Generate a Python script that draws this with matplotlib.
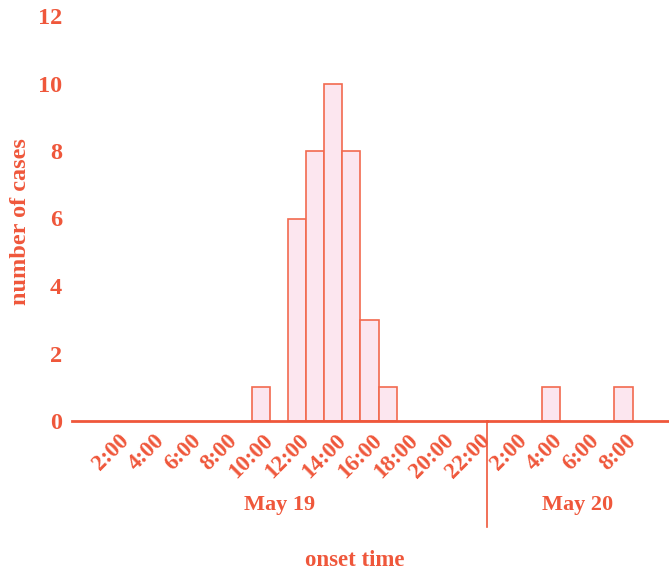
import matplotlib
matplotlib.use("Agg")
import matplotlib.pyplot as plt

# onset counts per hour bin (bin start hour)
may19_hours = [9, 11, 12, 13, 14, 15, 16]
may19_cases = [1, 6, 8, 10, 8, 3, 1]
may20_hours = [3, 7]
may20_cases = [1, 1]

may19_ticks = [2, 4, 6, 8, 10, 12, 14, 16, 18, 20, 22]
may20_ticks = [2, 4, 6, 8]
y_ticks = [0, 2, 4, 6, 8, 10, 12]

red = '#EF573B'
fill = '#FCE6EF'
edge = '#F26A4F'

plt.rcParams['font.family'] = ['Liberation Serif', 'DejaVu Serif']
plt.rcParams['font.weight'] = 'bold'

W, H = 669, 571
fig = plt.figure(figsize=(W / 100, H / 100), dpi=100)

x0, xm, x1 = 72, 487, 669
ytop, ybot = 16, 421
ax1 = fig.add_axes([x0 / W, 1 - ybot / H, (xm - x0) / W, (ybot - ytop) / H])
ax2 = fig.add_axes([xm / W, 1 - ybot / H, (x1 - xm) / W, (ybot - ytop) / H])

ax1.bar(may19_hours, may19_cases, width=1, align='edge', color=fill,
        edgecolor=edge, linewidth=1.2)
ax2.bar(may20_hours, may20_cases, width=1, align='edge', color=fill,
        edgecolor=edge, linewidth=1.2)

ax1.set_xlim(-0.95, 22)
ax2.set_xlim(0, 10)

for ax, ticks in ((ax1, may19_ticks), (ax2, may20_ticks)):
    ax.set_ylim(0, 12)
    for s in ('top', 'right', 'left'):
        ax.spines[s].set_visible(False)
    ax.spines['bottom'].set_color(red)
    ax.spines['bottom'].set_linewidth(2)
    ax.set_xticks(ticks)
    ax.set_xticklabels([f'{t}:00' for t in ticks], rotation=45, ha='right',
                       va='center', rotation_mode='anchor')
    ax.tick_params(axis='x', length=0, pad=12, labelsize=16.5, labelcolor=red)
    ax.patch.set_alpha(0)

ax1.set_yticks(y_ticks)
ax1.tick_params(axis='y', length=0, pad=7, labelsize=17.5, labelcolor=red)
ax2.set_yticks([])

# day separator
ax2.axvline(0, ymin=-106 / (ybot - ytop), ymax=0, color=red, lw=1.2, clip_on=False)

fig.text((x0 + xm) / 2 / W, 1 - 510 / H, 'May 19', color=red, fontsize=16,
         ha='center', va='baseline')
fig.text((xm + x1) / 2 / W, 1 - 510 / H, 'May 20', color=red, fontsize=16,
         ha='center', va='baseline')
fig.text(355 / W, 1 - 566 / H, 'onset time', color=red, fontsize=16.5,
         ha='center', va='baseline')
fig.text(21 / W, 1 - 222 / H, 'number of cases', color=red, fontsize=17.5,
         ha='center', va='center', rotation=90)

fig.savefig('out.png', dpi=100)
